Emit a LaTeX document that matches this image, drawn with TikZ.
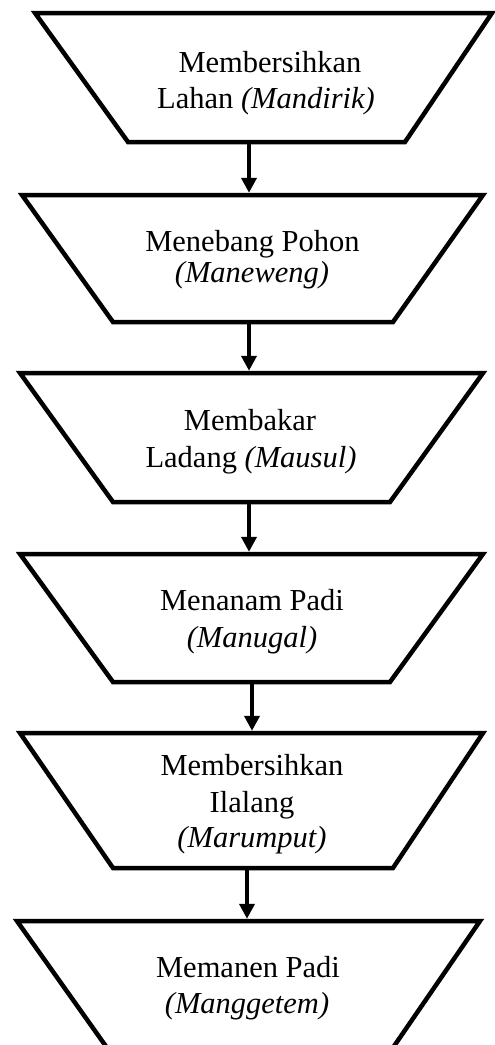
\documentclass[tikz,border=0pt]{standalone}
\usepackage{fontspec}
\setmainfont{Liberation Serif}
\usetikzlibrary{arrows.meta,fit}
\begin{document}
\begin{tikzpicture}[x=1pt,y=-1pt,
  box/.style={line width=4.5pt, line join=miter, fill=white},
  lbl/.style={anchor=base, inner sep=0pt, font=\fontsize{30.5}{36}\selectfont},
  arr/.style={line width=4.5pt, -{Triangle[width=15pt,length=15pt]}, shorten >=2pt},
  frame/.style={inner sep=0pt, draw=none}]
\useasboundingbox (0,0) rectangle (495,1045);
\fill[white] (0,0) rectangle (495,1045);
\clip (0,0) rectangle (495,1045);

% shape 1
\draw[box] (35,13) -- (492,13) -- (405,142) -- (128,142) -- cycle;
\coordinate (a1) at (35,13); \coordinate (b1) at (492,142);
\node[frame, fit=(a1)(b1)] (s1) {};
\node[lbl] (t1a) at (270,72) {Membersihkan};
\node[lbl] (t1b) at (266,108) {Lahan \textit{(Mandirik)}};

% shape 2
\draw[box] (22,195) -- (483,195) -- (393,322) -- (113,322) -- cycle;
\coordinate (a2) at (22,195); \coordinate (b2) at (483,322);
\node[frame, fit=(a2)(b2)] (s2) {};
\node[lbl] (t2a) at (252.5,251) {Menebang Pohon};
\node[lbl] (t2b) at (252,282) {\textit{(Maneweng)}};

% shape 3
\draw[box] (20,373) -- (483,373) -- (390,502) -- (113,502) -- cycle;
\coordinate (a3) at (20,373); \coordinate (b3) at (483,502);
\node[frame, fit=(a3)(b3)] (s3) {};
\node[lbl] (t3a) at (250,430) {Membakar};
\node[lbl] (t3b) at (251,467) {Ladang \textit{(Mausul)}};

% shape 4
\draw[box] (20,554) -- (483,554) -- (390,682) -- (113,682) -- cycle;
\coordinate (a4) at (20,554); \coordinate (b4) at (483,682);
\node[frame, fit=(a4)(b4)] (s4) {};
\node[lbl] (t4a) at (252,610) {Menanam Padi};
\node[lbl] (t4b) at (252,647) {\textit{(Manugal)}};

% shape 5
\draw[box] (20,733) -- (483,733) -- (393,868) -- (113,868) -- cycle;
\coordinate (a5) at (20,733); \coordinate (b5) at (483,868);
\node[frame, fit=(a5)(b5)] (s5) {};
\node[lbl] (t5a) at (252,775) {Membersihkan};
\node[lbl] (t5b) at (252,812) {Ilalang};
\node[lbl] (t5c) at (252,847) {\textit{(Marumput)}};

% shape 6
\draw[box] (17,921) -- (480,921) -- (390,1052) -- (110,1052) -- cycle;
\coordinate (a6) at (17,921); \coordinate (b6) at (480,1052);
\node[frame, fit=(a6)(b6)] (s6) {};
\node[lbl] (t6a) at (248,977) {Memanen Padi};
\node[lbl] (t6b) at (247,1013) {\textit{(Manggetem)}};

% arrow columns
\coordinate (x1) at (249,0);
\coordinate (x2) at (249,0);
\coordinate (x3) at (249,0);
\coordinate (x4) at (252,0);
\coordinate (x5) at (247,0);

\draw[arr] (s1.south -| x1) -- (s2.north -| x1);
\draw[arr] (s2.south -| x2) -- (s3.north -| x2);
\draw[arr] (s3.south -| x3) -- (s4.north -| x3);
\draw[arr] (s4.south -| x4) -- (s5.north -| x4);
\draw[arr] (s5.south -| x5) -- (s6.north -| x5);
\end{tikzpicture}
\end{document}
